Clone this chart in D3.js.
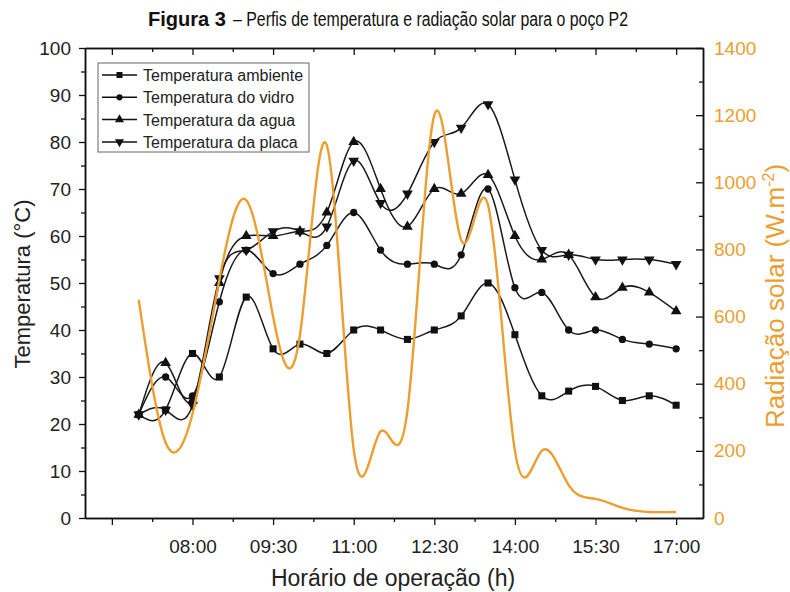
<!DOCTYPE html>
<html>
<head>
<meta charset="utf-8">
<script src="https://cdn.jsdelivr.net/npm/d3@7"></script>
<style>
body { margin: 0; background: #fff; }
text { font-family: "Liberation Sans", Arial, sans-serif; }
</style>
</head>
<body>
<div id="chart"></div>
<script>
// horario das medicoes (a cada 30 min)
var HORARIOS = ["07:00", "07:30", "08:00", "08:30", "09:00", "09:30", "10:00",
    "10:30", "11:00", "11:30", "12:00", "12:30", "13:00", "13:30", "14:00",
    "14:30", "15:00", "15:30", "16:00", "16:30", "17:00"];

var T_AMBIENTE = [22, 23, 35, 30, 47, 36, 37, 35, 40, 40, 38, 40, 43, 50, 39, 26, 27, 28, 25, 26, 24];
var T_VIDRO    = [22, 30, 26, 46, 57, 52, 54, 58, 65, 57, 54, 54, 56, 70, 49, 48, 40, 40, 38, 37, 36];
var T_AGUA     = [22, 33, 25, 50, 60, 60, 61, 65, 80, 70, 62, 70, 69, 73, 60, 55, 56, 47, 49, 48, 44];
var T_PLACA    = [22, 23, 24, 51, 57, 61, 61, 62, 76, 67, 69, 80, 83, 88, 72, 57, 56, 55, 55, 55, 54];

var RADIACAO = [650, 225, 310, 709, 947, 600, 545, 1110, 205, 258, 320, 1200, 828, 932, 200, 200, 98, 57, 30, 18, 18];

var X_TICKS = ["06:30", "08:00", "09:30", "11:00", "12:30", "14:00", "15:30", "17:00"];
var X_MINOR = ["07:15", "08:45", "10:15", "11:45", "13:15", "14:45", "16:15"];
var Y_TICKS = [0, 10, 20, 30, 40, 50, 60, 70, 80, 90, 100];
var Y2_TICKS = [0, 200, 400, 600, 800, 1000, 1200, 1400];

var SERIES = [
    {name: 'Temperatura ambiente', values: T_AMBIENTE, symbol: 'square'},
    {name: 'Temperatura do vidro', values: T_VIDRO, symbol: 'circle'},
    {name: 'Temperatura da agua', values: T_AGUA, symbol: 'up'},
    {name: 'Temperatura da placa', values: T_PLACA, symbol: 'down'}
];

var ORANGE = '#ec9e30';

function hora(s) {
    var p = s.split(':');
    return +p[0] + (+p[1]) / 60;
}

var WIDTH = 790, HEIGHT = 592;
var box = {left: 85, right: 703, top: 48, bottom: 518};

var sx = d3.scaleLinear().domain([6, 17.5]).range([box.left, box.right]);
var sy = d3.scaleLinear().domain([0, 100]).range([box.bottom, box.top]);
var sr = d3.scaleLinear().domain([0, 1400]).range([box.bottom, box.top]);

var svg = d3.select('#chart').append('svg')
    .attr('width', WIDTH)
    .attr('height', HEIGHT);

// titulo (fonte estreita no original -> comprimido)
svg.append('text')
    .attr('x', 148)
    .attr('y', 26)
    .attr('textLength', 78)
    .attr('lengthAdjust', 'spacingAndGlyphs')
    .style('font-size', '20px')
    .attr('font-weight', 'bold')
    .attr('fill', '#111')
    .text('Figura 3');
svg.append('text')
    .attr('x', 233)
    .attr('y', 26)
    .attr('textLength', 395)
    .attr('lengthAdjust', 'spacingAndGlyphs')
    .style('font-size', '20px')
    .attr('fill', '#111')
    .text('\u2013 Perfis de temperatura e radia\u00e7\u00e3o solar para o po\u00e7o P2');

// eixos
var xMaj = X_TICKS.map(hora), xMin = X_MINOR.map(hora);

function styleAxis(g) {
    g.selectAll('path.domain').attr('stroke', '#111').attr('stroke-width', 1.5);
    g.selectAll('line').attr('stroke', '#111').attr('stroke-width', 1.3);
    g.selectAll('text').style('font-size', '19px').attr('fill', '#222');
}

svg.append('g')
    .attr('transform', 'translate(0,' + box.bottom + ')')
    .call(d3.axisBottom(sx).tickValues(xMaj).tickSize(7).tickSizeOuter(0).tickPadding(15)
        .tickFormat(function(d) { return d < 7 ? '' : X_TICKS[xMaj.indexOf(d)]; }))
    .call(styleAxis);
svg.append('g')
    .attr('transform', 'translate(0,' + box.bottom + ')')
    .call(d3.axisBottom(sx).tickValues(xMin).tickSize(4).tickSizeOuter(0).tickFormat(''))
    .call(styleAxis);
svg.append('g')
    .attr('transform', 'translate(0,' + box.top + ')')
    .call(d3.axisTop(sx).tickValues(xMaj).tickSize(-7).tickSizeOuter(0).tickFormat(''))
    .call(styleAxis);
svg.append('g')
    .attr('transform', 'translate(0,' + box.top + ')')
    .call(d3.axisTop(sx).tickValues(xMin).tickSize(-4).tickSizeOuter(0).tickFormat(''))
    .call(styleAxis);

svg.append('g')
    .attr('transform', 'translate(' + box.left + ',0)')
    .call(d3.axisLeft(sy).tickValues(Y_TICKS).tickSize(6).tickSizeOuter(0).tickPadding(8))
    .call(styleAxis);
svg.append('g')
    .attr('transform', 'translate(' + box.left + ',0)')
    .call(d3.axisLeft(sy).tickValues(Y_TICKS.slice(1).map(function(v) { return v - 5; }))
        .tickSize(4).tickSizeOuter(0).tickFormat(''))
    .call(styleAxis);

var gr = svg.append('g')
    .attr('transform', 'translate(' + box.right + ',0)')
    .call(d3.axisRight(sr).tickValues(Y2_TICKS).tickSize(-7).tickSizeOuter(0).tickPadding(11)
        .tickFormat(d3.format('d')))
    .call(styleAxis);
gr.selectAll('text').attr('fill', ORANGE);
svg.append('g')
    .attr('transform', 'translate(' + box.right + ',0)')
    .call(d3.axisRight(sr).tickValues(Y2_TICKS.slice(1).map(function(v) { return v - 100; }))
        .tickSize(-4).tickSizeOuter(0).tickFormat(''))
    .call(styleAxis);

// titulos dos eixos
svg.append('text')
    .attr('x', box.left + (box.right - box.left) / 2 - 1)
    .attr('y', 586)
    .attr('text-anchor', 'middle')
    .style('font-size', '23px')
    .attr('fill', '#222')
    .text('Hor\u00e1rio de opera\u00e7\u00e3o (h)');

svg.append('text')
    .attr('transform', 'translate(30,284) rotate(-90)')
    .attr('text-anchor', 'middle')
    .style('font-size', '22px')
    .attr('fill', '#222')
    .text('Temperatura (\u00b0C)');

var rl = svg.append('text')
    .attr('transform', 'translate(784,296) rotate(-90)')
    .attr('text-anchor', 'middle')
    .style('font-size', '26px')
    .attr('fill', ORANGE);
rl.append('tspan').text('Radia\u00e7\u00e3o solar (W.m');
rl.append('tspan').attr('dy', -10).style('font-size', '16px').text('-2');
rl.append('tspan').attr('dy', 10).text(')');

// series
var hs = HORARIOS.map(hora);

function symbolPath(kind, size) {
    var t = {square: d3.symbolSquare, circle: d3.symbolCircle, up: d3.symbolTriangle, down: d3.symbolTriangle}[kind];
    return d3.symbol().type(t).size(size)();
}

var line = d3.line()
    .x(function(d, i) { return sx(hs[i]); })
    .y(function(d) { return sy(d); })
    .curve(d3.curveNatural);

var g = svg.append('g');
SERIES.forEach(function(s) {
    g.append('path')
        .attr('d', line(s.values))
        .attr('fill', 'none')
        .attr('stroke', '#1a1a1a')
        .attr('stroke-width', 1.5);
    g.selectAll(null).data(s.values).enter().append('path')
        .attr('d', symbolPath(s.symbol, s.symbol == 'circle' ? 42 : 50))
        .attr('transform', function(d, i) {
            return 'translate(' + sx(hs[i]) + ',' + sy(d) + ')' + (s.symbol == 'down' ? ' rotate(180)' : '');
        })
        .attr('fill', '#111');
});

var rline = d3.line()
    .x(function(d, i) { return sx(hs[i]); })
    .y(function(d) { return sr(d); })
    .curve(d3.curveNatural);

svg.append('path')
    .attr('d', rline(RADIACAO))
    .attr('fill', 'none')
    .attr('stroke', ORANGE)
    .attr('stroke-width', 2.4);

// legenda
var leg = svg.append('g');
leg.append('rect')
    .attr('x', 98).attr('y', 63)
    .attr('width', 211).attr('height', 89)
    .attr('fill', '#fff')
    .attr('stroke', '#666')
    .attr('stroke-width', 1);
SERIES.forEach(function(s, i) {
    var cy = 75 + i * 22.3;
    leg.append('line')
        .attr('x1', 102).attr('x2', 137)
        .attr('y1', cy).attr('y2', cy)
        .attr('stroke', '#111').attr('stroke-width', 1.5);
    leg.append('path')
        .attr('d', symbolPath(s.symbol, s.symbol == 'circle' ? 30 : 36))
        .attr('transform', 'translate(119.5,' + cy + ')' + (s.symbol == 'down' ? ' rotate(180)' : ''))
        .attr('fill', '#111');
    leg.append('text')
        .attr('x', 143).attr('y', cy + 6)
        .style('font-size', '16px')
        .attr('fill', '#222')
        .text(s.name);
});
</script>
</body>
</html>
